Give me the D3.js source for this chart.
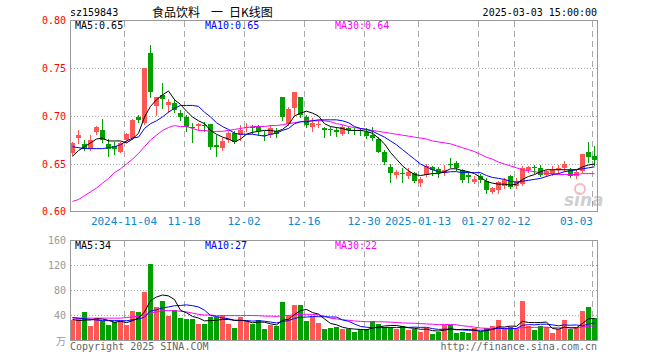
<!DOCTYPE html>
<html>
<head>
<meta charset="utf-8">
<script src="https://cdn.jsdelivr.net/npm/d3@7"></script>
<style>
  body { margin: 0; background: #fff; }
  svg text { font-family: "DejaVu Sans Mono", monospace; font-size: 10px; }
</style>
</head>
<body>
<div id="chart"></div>
<script>
// trading days shown on the chart
const dates = [
  "2024-10-22","2024-10-23","2024-10-24","2024-10-25","2024-10-28","2024-10-29","2024-10-30","2024-10-31","2024-11-01",
  "2024-11-04","2024-11-05","2024-11-06","2024-11-07","2024-11-08","2024-11-11","2024-11-12","2024-11-13","2024-11-14","2024-11-15",
  "2024-11-18","2024-11-19","2024-11-20","2024-11-21","2024-11-22","2024-11-25","2024-11-26","2024-11-27","2024-11-28","2024-11-29",
  "2024-12-02","2024-12-03","2024-12-04","2024-12-05","2024-12-06","2024-12-09","2024-12-10","2024-12-11","2024-12-12","2024-12-13",
  "2024-12-16","2024-12-17","2024-12-18","2024-12-19","2024-12-20","2024-12-23","2024-12-24","2024-12-25","2024-12-26","2024-12-27",
  "2024-12-30","2024-12-31","2025-01-02","2025-01-03","2025-01-06","2025-01-07","2025-01-08","2025-01-09","2025-01-10",
  "2025-01-13","2025-01-14","2025-01-15","2025-01-16","2025-01-17","2025-01-20","2025-01-21","2025-01-22","2025-01-23","2025-01-24",
  "2025-01-27","2025-02-05","2025-02-06","2025-02-07","2025-02-10","2025-02-11",
  "2025-02-12","2025-02-13","2025-02-14","2025-02-17","2025-02-18","2025-02-19","2025-02-20","2025-02-21",
  "2025-02-24","2025-02-25","2025-02-26","2025-02-27","2025-02-28","2025-03-03"
];

const open = [
  0.661,0.677,0.671,0.666,0.683,0.685,0.671,0.669,0.663,0.675,0.677,0.699,0.693,0.766,0.710,0.722,0.711,0.714,0.703,0.699,
  0.689,0.690,0.691,0.692,0.670,0.667,0.675,0.682,0.680,0.689,0.689,0.689,0.680,0.680,0.684,0.720,0.692,0.708,0.720,0.699,
  0.689,0.692,0.688,0.686,0.685,0.681,0.688,0.685,0.685,0.683,0.680,0.676,0.662,0.647,0.639,0.641,0.638,0.641,0.630,0.639,
  0.647,0.645,0.641,0.650,0.651,0.644,0.639,0.631,0.637,0.632,0.621,0.623,0.627,0.638,0.627,0.629,0.644,0.647,0.646,0.639,
  0.640,0.644,0.646,0.644,0.638,0.643,0.663,0.658
];
const high = [
  0.673,0.685,0.675,0.680,0.690,0.697,0.676,0.673,0.673,0.682,0.697,0.701,0.750,0.774,0.720,0.734,0.718,0.718,0.706,0.701,
  0.693,0.693,0.694,0.692,0.680,0.677,0.684,0.684,0.691,0.693,0.691,0.691,0.684,0.691,0.688,0.720,0.709,0.725,0.720,0.701,
  0.698,0.696,0.689,0.689,0.689,0.691,0.689,0.688,0.687,0.687,0.689,0.678,0.665,0.650,0.644,0.646,0.646,0.642,0.636,0.650,
  0.648,0.647,0.649,0.656,0.653,0.645,0.642,0.638,0.640,0.635,0.626,0.632,0.635,0.639,0.635,0.648,0.648,0.649,0.649,0.644,
  0.648,0.649,0.653,0.646,0.644,0.660,0.673,0.669
];
const low = [
  0.659,0.672,0.665,0.665,0.681,0.673,0.658,0.660,0.662,0.673,0.676,0.694,0.692,0.720,0.701,0.708,0.704,0.704,0.696,0.684,
  0.673,0.685,0.684,0.666,0.658,0.665,0.673,0.672,0.675,0.684,0.682,0.680,0.675,0.678,0.678,0.696,0.691,0.701,0.699,0.689,
  0.684,0.689,0.678,0.680,0.679,0.680,0.682,0.681,0.680,0.677,0.675,0.662,0.650,0.631,0.635,0.631,0.635,0.631,0.627,0.638,
  0.639,0.636,0.639,0.647,0.644,0.631,0.631,0.630,0.631,0.620,0.620,0.620,0.625,0.625,0.625,0.628,0.642,0.641,0.637,0.637,
  0.639,0.641,0.643,0.636,0.635,0.642,0.652,0.649
];
const close = [
  0.672,0.680,0.666,0.675,0.689,0.675,0.666,0.666,0.672,0.681,0.696,0.696,0.750,0.725,0.720,0.718,0.715,0.706,0.699,0.689,
  0.688,0.692,0.690,0.668,0.668,0.674,0.682,0.673,0.685,0.689,0.688,0.684,0.679,0.687,0.681,0.699,0.707,0.725,0.701,0.691,
  0.693,0.692,0.685,0.685,0.683,0.689,0.685,0.684,0.684,0.679,0.677,0.663,0.652,0.641,0.642,0.640,0.642,0.632,0.634,0.648,
  0.644,0.641,0.644,0.649,0.646,0.633,0.636,0.634,0.633,0.623,0.625,0.631,0.633,0.626,0.632,0.646,0.647,0.646,0.639,0.643,
  0.644,0.646,0.650,0.637,0.642,0.660,0.657,0.654
];

// moving averages of the close, as drawn
const ma5 = [
  0.658,0.664,0.668,0.672,0.676,0.677,0.674,0.674,0.674,0.672,0.676,0.682,0.699,0.710,0.717,0.722,0.726,0.717,0.712,0.705,
  0.699,0.695,0.692,0.685,0.681,0.678,0.676,0.673,0.676,0.681,0.683,0.684,0.685,0.685,0.684,0.686,0.691,0.700,0.703,0.705,
  0.703,0.700,0.692,0.689,0.688,0.687,0.685,0.685,0.685,0.684,0.682,0.677,0.671,0.662,0.655,0.648,0.643,0.639,0.638,0.639,
  0.640,0.640,0.642,0.645,0.645,0.643,0.642,0.640,0.636,0.632,0.630,0.629,0.629,0.628,0.629,0.634,0.637,0.639,0.642,0.644,
  0.644,0.644,0.644,0.644,0.644,0.647,0.649,0.650
];
const ma10 = [
  0.668,0.667,0.666,0.666,0.666,0.666,0.667,0.668,0.670,0.674,0.677,0.678,0.687,0.692,0.695,0.699,0.704,0.708,0.711,0.711,
  0.711,0.710,0.704,0.699,0.693,0.689,0.686,0.682,0.681,0.681,0.681,0.680,0.679,0.681,0.682,0.685,0.687,0.692,0.694,0.694,
  0.695,0.696,0.696,0.696,0.696,0.695,0.693,0.689,0.687,0.686,0.684,0.681,0.678,0.674,0.670,0.665,0.660,0.655,0.650,0.647,
  0.644,0.642,0.641,0.642,0.642,0.641,0.641,0.641,0.641,0.638,0.636,0.635,0.634,0.632,0.631,0.632,0.633,0.634,0.635,0.637,
  0.639,0.640,0.642,0.643,0.644,0.645,0.646,0.647
];
const ma30 = [
  0.611,0.613,0.617,0.621,0.625,0.630,0.635,0.641,0.645,0.650,0.655,0.661,0.668,0.675,0.680,0.685,0.688,0.690,0.689,0.689,
  0.687,0.685,0.685,0.684,0.684,0.684,0.685,0.686,0.687,0.688,0.689,0.689,0.689,0.690,0.690,0.691,0.692,0.693,0.694,0.695,
  0.695,0.695,0.695,0.694,0.692,0.691,0.689,0.688,0.687,0.686,0.685,0.684,0.683,0.682,0.681,0.680,0.679,0.678,0.677,0.676,
  0.674,0.673,0.672,0.671,0.669,0.667,0.665,0.663,0.660,0.657,0.655,0.652,0.650,0.648,0.646,0.644,0.643,0.642,0.641,0.640,
  0.640,0.639,0.639,0.639,0.639,0.640,0.640,0.640
];

// volume in 万 and its averages
const volume = [
  32,34.7,45.3,22.4,34.7,30.9,24,29.3,31,24,46.4,45.3,77.3,121.6,53.3,62.4,38.4,48,35.7,33,
  33.6,25.6,25.6,37.3,36.3,39.5,25.6,19.7,36.3,31,25.1,32,17.6,24,22.4,61.3,40,56,56,31,
  36.3,27.7,17.6,20,20.3,17,17,13.3,17,17,31,25.6,21.3,21.3,17,22.4,16,17,13.3,18.7,
  9.6,13.3,24,24,10.7,13.3,11.7,18.7,13.3,18.7,22.4,32,17,21.3,17,62.4,22.4,16,22.4,20.3,
  10.7,17,32,17,20.3,46.9,53.3,34.7
];
const vma5 = [
  33,31,32,32,33.8,33.6,31.5,28.3,30,27.8,30.9,35.2,44.8,62.9,68.8,72,70.6,64.7,47.6,43.5,
  37.7,35.2,30.7,31,31.7,32.9,32.9,31.7,31.5,30.4,27.5,28.8,28.4,25.9,24.2,31.5,33.1,40.7,47.1,48.9,
  43.9,41.4,33.7,26.5,24.4,20.5,18.4,17.5,16.9,16.3,19.1,20.8,22.4,23.2,23.2,21.5,19.6,18.7,17.1,17.5,
  14.9,14.4,15.8,17.9,16.3,17.1,16.7,15.7,13.5,15.1,17,21,20.7,22.3,21.9,29.9,28,27.8,28,28.7,
  18.4,17.3,20.5,19.4,19.4,26.6,33.9,34.4
];
const vma10 = [
  36,35,34,33,32,31,31,31,31,30.8,32.3,33.4,36.6,46.5,48.3,51.5,52.9,54.8,55.3,56.2,
  54.9,52.9,47.7,39.3,37.6,35.3,34.1,31.2,31.3,31.1,30.2,30.9,30.1,28.7,27.3,29.5,31,34.6,36.5,36.6,
  37.7,37.3,37.2,36.8,36.7,32.2,29.9,25.6,21.7,20.4,19.8,19.6,20,20.1,19.8,20.3,20.2,20.6,20.2,20.4,
  18.2,17,17.3,17.5,16.9,16,15.6,15.8,15.7,15.7,17.1,18.9,18.2,17.9,18.5,23.5,24.5,24.3,25.2,25.3,
  24.2,22.7,24.2,23.7,24.1,22.5,25.6,27.5
];
const vma30 = [
  35,35,35,35,35,35,35,35,35,36,37,38,40,43,45,47,47,47,46,45,
  43,41,40,40,39,39,39,39,39,39.3,39.1,39,38.1,38.2,37.7,38.8,39.3,40.2,41,41.2,
  40.9,40.3,38.3,34.9,33.8,32.3,31.6,30.5,29.8,29.3,29.2,29.2,29.1,28.5,27.9,27.3,27,26.9,26.2,25.7,
  25.2,24.6,24.8,24.8,24.4,22.8,21.9,20.6,19.2,18.8,18.3,18.5,18.5,18.5,18.4,19.9,20.1,20.2,20.4,20.5,
  19.8,19.5,19.9,19.7,19.8,20.6,21.9,22.5
];

const tickDates = ["2024-11-04","2024-11-18","2024-12-02","2024-12-16","2024-12-30","2025-01-13","2025-01-27","2025-02-12","2025-03-03"];
const tickLabels = ["2024-11-04","11-18","12-02","12-16","12-30","2025-01-13","01-27","02-12","03-03"];
const priceTicks = [0.80, 0.75, 0.70, 0.65, 0.60];
const volTicks = [160, 120, 80, 40];
const titleParts = [["食品饮料", 152], ["一", 211], ["日K线图", 229]];

const UP = "#ff5656", DOWN = "#00a000";
const GRID = "#aaa", BORDER = "#999";

const svg = d3.select("#chart").append("svg").attr("width", 660).attr("height", 360);

// scales
const x = d3.scaleBand().domain(dates).range([70, 598]);   // 6px per day, body 5px
const yP = d3.scaleLinear().domain([0.6, 0.8]).range([212, 20]);
const yV = d3.scaleLinear().domain([0, 160]).range([340, 240]);
const cx = i => x(dates[i]) + 2.5;

const candles = dates.map((d, i) => ({ date: d, o: open[i], h: high[i], l: low[i], c: close[i], v: volume[i] }));
const isUp = d => d.c >= d.o;

// header
svg.append("text").attr("x", 70).attr("y", 16).text("sz159843");
svg.selectAll("text.title").data(titleParts).enter().append("text")
  .attr("x", d => d[1]).attr("y", 17)
  .style("font-family", "'Noto Sans CJK SC', sans-serif").style("font-size", "12px")
  .text(d => d[0]);
svg.append("text").attr("x", 597).attr("y", 16).attr("text-anchor", "end").text("2025-03-03 15:00:00");

function panel(top, bottom) {
  const g = svg.append("g");
  // vertical dashed grid at the tick dates
  g.selectAll("line.v").data(tickDates).enter().append("line")
    .attr("x1", d => x(d) + 0.5).attr("x2", d => x(d) + 0.5)
    .attr("y1", top + 1).attr("y2", bottom)
    .attr("stroke", GRID).attr("stroke-dasharray", "6,4");
  return g;
}

// ---- price panel
const gp = panel(20, 211);
gp.selectAll("line.h").data(priceTicks.slice(1, -1)).enter().append("line")
  .attr("x1", 71).attr("x2", 597)
  .attr("y1", d => Math.round(yP(d)) + 0.5).attr("y2", d => Math.round(yP(d)) + 0.5)
  .attr("stroke", GRID).attr("stroke-dasharray", "1,2");
svg.selectAll("text.pt").data(priceTicks).enter().append("text")
  .attr("x", 66).attr("y", d => Math.round(Math.min(yP(d), 211)) + 4)
  .attr("text-anchor", "end").attr("fill", "#f00")
  .text(d => d.toFixed(2));

// sina watermark
const wm = svg.append("g").attr("opacity", 0.35);
wm.append("circle").attr("cx", 580).attr("cy", 189).attr("r", 5).attr("fill", "none").attr("stroke", "#e35").attr("stroke-width", 2);
wm.append("text").attr("x", 564).attr("y", 206)
  .style("font-family", "'DejaVu Sans', sans-serif").style("font-size", "17px")
  .style("font-style", "italic").style("font-weight", "bold").attr("fill", "#777").text("sina");

// candles
const gc = svg.append("g");
gc.selectAll("rect.wick").data(candles).enter().append("rect")
  .attr("x", d => x(d.date) + 2).attr("width", 1)
  .attr("y", d => Math.round(yP(d.h)))
  .attr("height", d => Math.round(yP(d.l)) - Math.round(yP(d.h)) + 1)
  .attr("fill", d => isUp(d) ? UP : DOWN);
gc.selectAll("rect.body").data(candles).enter().append("rect")
  .attr("x", d => x(d.date)).attr("width", 5)
  .attr("y", d => Math.round(yP(Math.max(d.o, d.c))))
  .attr("height", d => Math.max(1, Math.round(yP(Math.min(d.o, d.c))) - Math.round(yP(Math.max(d.o, d.c)))))
  .attr("fill", d => isUp(d) ? UP : DOWN);

const priceLine = d3.line().x((d, i) => cx(i)).y(d => yP(d));
[[ma30, "#f0f"], [ma10, "#00f"], [ma5, "#000"]].forEach(([s, col]) => {
  svg.append("path").attr("d", priceLine(s)).attr("fill", "none").attr("stroke", col).attr("stroke-width", 1);
});

svg.append("rect").attr("x", 70.5).attr("y", 20.5).attr("width", 527).attr("height", 191)
  .attr("fill", "none").attr("stroke", BORDER);

const fmt2 = d3.format(".2f");
svg.append("text").attr("x", 75).attr("y", 29).attr("fill", "#000").text("MA5:" + fmt2(ma5[ma5.length - 1]));
svg.append("text").attr("x", 205).attr("y", 29).attr("fill", "#00f").text("MA10:" + fmt2(ma10[ma10.length - 1]));
svg.append("text").attr("x", 335).attr("y", 29).attr("fill", "#f0f").text("MA30:" + fmt2(ma30[ma30.length - 1]));

// date labels
svg.selectAll("text.xt").data(tickDates).enter().append("text")
  .attr("x", (d, i) => i === tickDates.length - 1 ? x(d) + 1 : x(d))
  .attr("y", 225)
  .attr("text-anchor", (d, i) => i === tickDates.length - 1 ? "end" : "middle")
  .attr("fill", "#0a88d2")
  .style("font-size", "11px")
  .text((d, i) => tickLabels[i]);

// ---- volume panel
const gv = panel(240, 340);
gv.selectAll("line.h").data(volTicks.slice(1)).enter().append("line")
  .attr("x1", 71).attr("x2", 597)
  .attr("y1", d => Math.round(yV(d)) + 0.5).attr("y2", d => Math.round(yV(d)) + 0.5)
  .attr("stroke", GRID).attr("stroke-dasharray", "1,2");
svg.selectAll("text.vt").data(volTicks).enter().append("text")
  .attr("x", 66).attr("y", d => Math.round(yV(d)) + 4)
  .attr("text-anchor", "end").attr("fill", "#999")
  .text(d => d);
svg.append("text").attr("x", 66).attr("y", 345).attr("text-anchor", "end").attr("fill", "#999")
  .style("font-family", "'Noto Sans CJK SC', sans-serif").text("万");

svg.append("g").selectAll("rect").data(candles).enter().append("rect")
  .attr("x", d => x(d.date)).attr("width", 5)
  .attr("y", d => Math.round(yV(d.v)))
  .attr("height", d => 340 - Math.round(yV(d.v)))
  .attr("fill", d => isUp(d) ? UP : DOWN);

const volLine = d3.line().x((d, i) => cx(i)).y(d => yV(d));
[[vma30, "#f0f"], [vma10, "#00f"], [vma5, "#000"]].forEach(([s, col]) => {
  svg.append("path").attr("d", volLine(s)).attr("fill", "none").attr("stroke", col).attr("stroke-width", 1);
});

svg.append("rect").attr("x", 70.5).attr("y", 240.5).attr("width", 527).attr("height", 100)
  .attr("fill", "none").attr("stroke", BORDER);

const last = a => Math.floor(a[a.length - 1]);
svg.append("text").attr("x", 75).attr("y", 249).attr("fill", "#000").text("MA5:" + last(vma5));
svg.append("text").attr("x", 205).attr("y", 249).attr("fill", "#00f").text("MA10:" + last(vma10));
svg.append("text").attr("x", 335).attr("y", 249).attr("fill", "#f0f").text("MA30:" + last(vma30));

// footer
svg.append("text").attr("x", 70).attr("y", 350).attr("fill", "#666").text("Copyright 2025 SINA.COM");
svg.append("text").attr("x", 597).attr("y", 350).attr("text-anchor", "end").attr("fill", "#666").text("http://finance.sina.com.cn");
</script>
</body>
</html>
